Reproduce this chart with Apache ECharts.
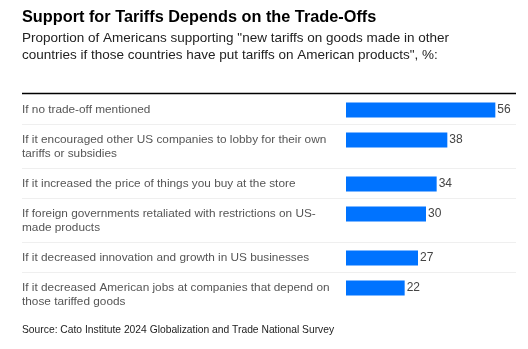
<!DOCTYPE html>
<html>
<head>
<meta charset="utf-8">
<script src="https://cdn.jsdelivr.net/npm/echarts@6/dist/echarts.min.js"></script>
<style>
  html, body { margin: 0; padding: 0; background: #fff; }
  #chart { width: 528px; height: 349px; }
</style>
</head>
<body>
<div id="chart"></div>
<script>
// Survey scenarios (line breaks mark where each label wraps)
const categories = [
  'If no trade-off mentioned',
  'If it encouraged other US companies to lobby for their own\ntariffs or subsidies',
  'If it increased the price of things you buy at the store',
  'If foreign governments retaliated with restrictions on US-\nmade products',
  'If it decreased innovation and growth in US businesses',
  'If it decreased American jobs at companies that depend on\nthose tariffed goods'
];
// Share supporting new tariffs, %
const support = [56, 38, 34, 30, 27, 22];

const FONT = '"Liberation Sans", Arial, Helvetica, sans-serif';
const LINE_H = 14;      // label line height
const ROW_PAD = 16;     // vertical padding per row
const BAR_H = 15;
const TABLE_LEFT = 22;
const TABLE_RIGHT = 516;

// Rows grow with the number of label lines; build row extents along the y axis
let offset = 0;
const rows = categories.map((c, i) => {
  const lines = c.split('\n').length;
  const h = ROW_PAD + LINE_H * lines;
  const r = [support[i], offset, h, i];
  offset += h;
  return r;
});
const total = offset;

const chart = echarts.init(document.getElementById('chart'), null, { renderer: 'canvas' });

chart.setOption({
  animation: false,
  backgroundColor: '#fff',
  title: [
    {
      text: 'Support for Tariffs Depends on the Trade-Offs',
      left: 22, top: 8, padding: 0,
      textStyle: { fontFamily: FONT, fontSize: 16.3, fontWeight: 'bold', color: '#000', lineHeight: 20 }
    },
    {
      text: 'Proportion of Americans supporting "new tariffs on goods made in other\ncountries if those countries have put tariffs on American products", %:',
      left: 22, top: 29.5, padding: 0,
      textStyle: { fontFamily: FONT, fontSize: 13.5, fontWeight: 'normal', color: '#222', lineHeight: 17 }
    },
    {
      text: 'Source: Cato Institute 2024 Globalization and Trade National Survey',
      left: 22, top: 324, padding: 0,
      textStyle: { fontFamily: FONT, fontSize: 10.3, fontWeight: 'normal', color: '#222', lineHeight: 12 }
    }
  ],
  grid: { left: 346, right: 22, top: 94, height: total, containLabel: false },
  xAxis: { type: 'value', min: 0, max: 60, show: false },
  yAxis: { type: 'value', min: 0, max: total, inverse: true, show: false },
  series: [{
    type: 'custom',
    coordinateSystem: 'cartesian2d',
    encode: { x: 0, y: 1 },
    data: rows,
    renderItem: function (params, api) {
      const i = api.value(3);
      const v = api.value(0);
      const y0 = api.value(1);
      const h = api.value(2);
      const start = api.coord([0, y0]);
      const end = api.coord([v, y0]);
      const top = start[1];
      const bottom = api.coord([0, y0 + h])[1];
      const barMid = top + 16;
      const children = [
        {
          type: 'rect',
          shape: { x: start[0], y: barMid - BAR_H / 2, width: end[0] - start[0], height: BAR_H },
          style: { fill: '#0073ff' }
        },
        {
          type: 'text',
          style: {
            text: String(v), x: end[0] + 2, y: barMid,
            verticalAlign: 'middle', align: 'left',
            font: '12px ' + FONT, fill: '#444'
          }
        },
        {
          type: 'text',
          style: {
            text: categories[i], x: TABLE_LEFT, y: top + 8.5,
            verticalAlign: 'top', align: 'left', lineHeight: LINE_H,
            font: '11.8px ' + FONT, fill: '#555'
          }
        }
      ];
      if (i === 0) {
        children.push({
          type: 'line',
          shape: { x1: TABLE_LEFT, y1: top - 0.5, x2: TABLE_RIGHT, y2: top - 0.5 },
          style: { stroke: '#000', lineWidth: 1.5 }
        });
      }
      if (i < categories.length - 1) {
        children.push({
          type: 'line',
          shape: { x1: TABLE_LEFT, y1: bottom + 0.5, x2: TABLE_RIGHT, y2: bottom + 0.5 },
          style: { stroke: '#efefef', lineWidth: 1 }
        });
      }
      return { type: 'group', children: children };
    }
  }]
});
</script>
</body>
</html>
